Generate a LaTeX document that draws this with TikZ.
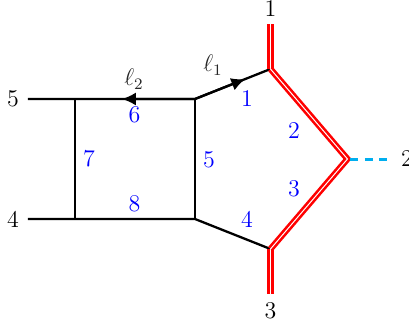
\documentclass[tikz,border=0pt]{standalone}
\usetikzlibrary{calc,arrows.meta}
\definecolor{dashcyan}{RGB}{0,174,239}
\tikzset{
  prop/.style={line width=1.15pt,black},
  massive/.style={draw=red,line width=1.3pt,double=white,double distance=0.5pt},
  offshell/.style={draw=dashcyan,line width=1.5pt,dash pattern=on 4pt off 3.2pt},
  idx/.style={text=blue,font=\fontsize{11.5}{14}\selectfont,inner sep=0pt},
  ext/.style={text=black,font=\fontsize{11.5}{14}\selectfont,inner sep=0pt},
  lbl/.style={text=black!85,font=\fontsize{11.5}{14}\selectfont,inner sep=0pt},
  flow/.style={-{Latex[length=7pt,width=6.5pt]},line width=1.15pt}
}
\begin{document}
\begin{tikzpicture}[x=0.5pt,y=-0.5pt]
\useasboundingbox (0,0) rectangle (409,327);
\coordinate (a) at (75,99);
\coordinate (b) at (195,99);
\coordinate (c) at (270.5,69);
\coordinate (d) at (347.5,159);
\coordinate (e) at (270.5,249);
\coordinate (f) at (195,219);
\coordinate (g) at (75,219);
\coordinate (p5) at (28,99);
\coordinate (p4) at (28,219);
\coordinate (p1) at (270.5,24);
\coordinate (p3) at (270.5,294);
\coordinate (p2) at (393,159);
\draw[prop] (p5) -- (a) -- (b) -- (c);
\draw[prop] (p4) -- (g) -- (f) -- (e);
\draw[prop] (a) -- (g);
\draw[prop] (b) -- (f);
\draw[flow] (b) -- ($(b)!0.61!(a)$);
\draw[flow] (b) -- ($(b)!0.667!(c)$);
\draw[massive] (p1) -- (c);
\draw[massive] (e) -- (p3);
\draw[massive,line join=miter] (c) -- (d) -- (e);
\draw[offshell] (d) ++(3,0) -- (p2);
\node[ext] (n1) at (270.5,9) {$1$};
\node[ext] (n3) at (270.5,311) {$3$};
\node[ext] (n5) at (13,99) {$5$};
\node[ext] (n4) at (13,220) {$4$};
\node[ext] (n2) at (407,159) {$2$};
\node[lbl] (l1) at (213,65) {$\ell_1$};
\node[lbl] (l2) at (134,79) {$\ell_2$};
\node[idx] (i1) at (247,99) {$1$};
\node[idx] (i2) at (294,131) {$2$};
\node[idx] (i3) at (294,189) {$3$};
\node[idx] (i4) at (247,220) {$4$};
\node[idx] (i5) at (209,160) {$5$};
\node[idx] (i6) at (134.5,115) {$6$};
\node[idx] (i7) at (89,159) {$7$};
\node[idx] (i8) at (134.5,204) {$8$};
\end{tikzpicture}
\end{document}
